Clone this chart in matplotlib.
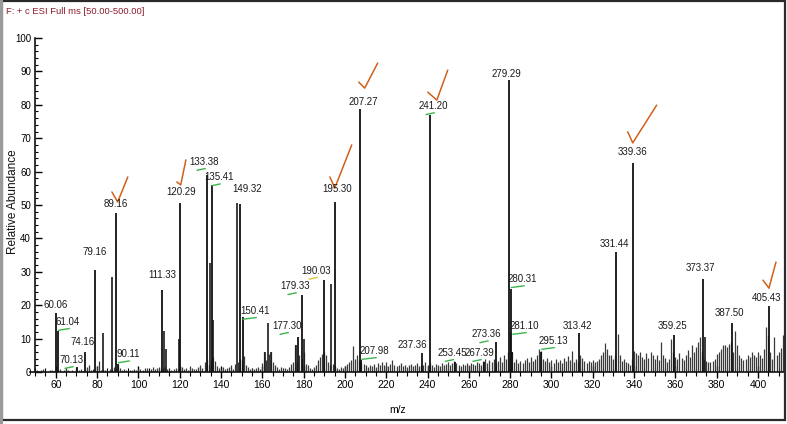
import matplotlib
matplotlib.use("Agg")
import matplotlib.pyplot as plt
from matplotlib.patches import Rectangle
import numpy as np

# ---------------- data ----------------
noise_start = 50
noise_heights = [
    0.4, 0.6, 0.3, 0.5, 0.8, 0.4, 0.3, 0.6, 0.5, 0.4,
    0.5, 0.7, 0.9, 0.4, 0.6, 1.0, 0.5, 0.3, 0.7, 0.4,
    1.1, 0.5, 0.8, 0.4, 0.6, 1.4, 2.0, 0.5, 0.9, 0.6,
    1.8, 3.2, 0.7, 1.0, 0.6, 0.5, 0.8, 0.9, 1.4, 0.8,
    2.0, 1.2, 0.6, 0.9, 0.5, 0.4, 0.7, 0.5, 0.9, 0.6,
    0.8, 1.0, 0.6, 1.3, 1.1, 0.7, 0.9, 1.5, 0.8, 1.2,
    1.6, 1.0, 1.2, 1.4, 1.0, 0.8, 0.6, 0.9, 1.2, 1.0,
    0.8, 1.5, 0.9, 1.2, 0.7, 1.8, 1.3, 0.9, 1.0, 1.6,
    2.2, 1.2, 3.0, 4.0, 2.0, 3.5, 4.5, 3.2, 1.8, 1.2,
    1.0, 1.4, 0.9, 1.2, 1.6, 2.1, 1.0, 2.4, 3.0, 4.0,
    3.5, 4.8, 2.2, 1.5, 1.0, 1.3, 0.9, 1.2, 1.6, 1.0,
    2.8, 6.0, 3.5, 5.5, 6.0, 3.0, 2.0, 1.5, 1.0, 1.4,
    0.9, 1.2, 1.0, 1.5, 2.4, 3.0, 8.0, 3.0, 5.0, 4.0,
    6.0, 2.5, 2.0, 1.2, 1.0, 1.5, 2.0, 3.5, 4.5, 5.5,
    6.0, 5.0, 3.0, 2.0, 2.5, 1.8, 1.2, 1.0, 1.6, 1.2,
    1.8, 2.5, 3.0, 3.5, 7.8, 4.0, 5.0, 3.5, 3.0, 2.5,
    2.0, 1.6, 2.2, 1.8, 2.5, 1.5, 2.8, 2.0, 3.0, 2.2,
    3.0, 1.8, 2.5, 3.5, 2.2, 1.8, 2.0, 2.6, 1.8, 2.2,
    1.6, 2.0, 2.4, 1.8, 2.2, 2.6, 1.8, 2.0, 2.2, 3.0,
    2.2, 2.8, 2.0, 1.6, 2.4, 2.2, 1.8, 2.8, 2.0, 2.5,
    3.0, 2.2, 2.6, 3.4, 2.8, 2.2, 1.8, 2.4, 2.0, 2.6,
    2.2, 2.8, 2.4, 2.0, 3.0, 2.6, 2.2, 3.4, 4.0, 2.6,
    3.6, 3.0, 4.0, 2.8, 3.2, 4.6, 3.0, 5.0, 4.0, 6.0,
    12.0, 6.0, 3.0, 4.0, 2.6, 3.4, 2.8, 3.6, 4.2, 3.0,
    4.6, 3.2, 3.8, 5.0, 7.0, 6.4, 4.0, 3.2, 4.2, 3.0,
    3.6, 2.8, 4.0, 3.0, 3.6, 2.6, 4.2, 3.2, 4.8, 3.6,
    6.2, 3.0, 4.0, 3.0, 5.0, 4.2, 3.4, 2.8, 3.4, 3.0,
    3.6, 3.0, 3.4, 4.0, 5.0, 6.0, 8.6, 7.0, 5.0, 5.0,
    4.0, 5.0, 11.4, 5.0, 3.2, 4.0, 3.0, 2.6, 2.2, 4.0,
    6.4, 5.6, 5.2, 6.0, 4.6, 4.0, 5.8, 4.2, 6.0, 5.0,
    4.0, 5.2, 3.6, 9.0, 5.0, 4.2, 3.0, 4.0, 10.0, 6.0,
    4.6, 3.8, 5.6, 4.2, 3.6, 5.0, 6.6, 4.4, 8.0, 6.0,
    7.4, 9.0, 10.5, 6.0, 4.0, 3.4, 3.0, 3.0, 3.2, 4.0,
    5.4, 6.0, 7.0, 8.0, 8.2, 7.6, 8.5, 9.0, 6.0, 12.3,
    8.0, 5.0, 4.2, 3.6, 4.0, 5.0, 4.6, 6.0, 5.0, 4.4,
    6.0, 5.0, 4.2, 7.0, 13.5, 11.0, 6.0, 4.0, 10.5, 5.0,
    6.0, 7.2, 11.0,
]

# labelled peaks
peak_mz = [60.06, 61.04, 70.13, 74.16, 79.16, 89.16, 90.11, 111.33, 120.29,
           133.38, 135.41, 149.32, 150.41, 177.30, 179.33, 190.03, 195.30,
           207.27, 207.98, 237.36, 241.20, 253.45, 267.39, 273.36, 279.29,
           280.31, 281.10, 295.13, 313.42, 331.44, 339.36, 359.25, 373.37,
           387.50, 405.43]
peak_abund = [17.6, 12.3, 1.5, 6.0, 30.5, 47.6, 2.5, 24.5, 50.6,
              59.0, 56.0, 50.3, 16.5, 10.5, 23.0, 27.5, 51.0,
              78.7, 3.5, 5.7, 77.0, 3.0, 3.0, 9.0, 87.5,
              25.0, 6.0, 6.0, 11.6, 35.8, 62.6, 11.0, 27.8,
              14.7, 19.8]
peak_labels = ["60.06", "61.04", "70.13", "74.16", "79.16", "89.16", "90.11",
               "111.33", "120.29", "133.38", "135.41", "149.32", "150.41",
               "177.30", "179.33", "190.03", "195.30", "207.27", "207.98",
               "237.36", "241.20", "253.45", "267.39", "273.36", "279.29",
               "280.31", "281.10", "295.13", "313.42", "331.44", "339.36",
               "359.25", "373.37", "387.50", "405.43"]

# other prominent unlabelled peaks
extra_mz = [82.9, 87.1, 112.2, 113.3, 119.6, 134.5, 136.2, 147.8, 161.2,
            162.9, 164.2, 176.5, 180.1, 193.2, 374.3]
extra_abund = [11.7, 28.4, 12.3, 7.0, 10.0, 32.6, 15.6, 50.5, 6.0,
               14.7, 6.0, 8.0, 10.0, 26.3, 10.5]

# ---------------- annotation layout (offsets from peak, data units) -------
label_dx = [0.0, 4.8, -2.4, -1.1, -0.3, 0.0, 4.8, 0.0, 0.2,
            -1.7, 3.5, 3.2, 6.0, -5.4, -3.6, -4.1, 0.8,
            1.4, 6.5, -4.5, 1.4, -1.6, -2.1, -4.7, -0.9,
            5.8, 6.0, 5.6, -0.6, -0.7, 0.0, -0.5, -1.1,
            -1.1, -1.1]
label_dy = [1.0, 1.2, 0.6, 1.5, 3.9, 1.2, 1.3, 3.0, 1.8,
            2.4, 0.8, 3.0, 0.3, 1.8, 1.2, 1.3, 2.3,
            0.6, 1.3, 0.9, 1.1, 1.2, 1.2, 0.8, 0.3,
            1.3, 6.3, 1.8, 0.7, 1.0, 1.8, 1.3, 1.8,
            1.5, 1.0]
leader_labels = {"61.04", "70.13", "90.11", "133.38", "135.41", "150.41",
                 "177.30", "179.33", "190.03", "207.98", "241.20", "253.45",
                 "267.39", "273.36", "280.31", "281.10", "295.13"}
check_shapes = {  # (dx, dy) offsets from peak top for the 3 points of each tick
    "89.16":  [(-2.0, 6.3), (0.8, 3.3), (5.7, 10.8)],
    "120.29": [(-1.7, 6.3), (0.2, 5.4), (2.7, 12.9)],
    "195.30": [(-2.6, 7.4), (-0.2, 4.1), (8.0, 17.0)],
    "207.27": [(-0.6, 8.1), (2.3, 6.3), (8.6, 13.8)],
    "241.20": [(-1.1, 6.8), (3.3, 4.4), (8.6, 13.4)],
    "339.36": [(-2.4, 9.3), (0.0, 6.0), (11.6, 17.3)],
    "405.43": [(-3.0, 7.7), (-0.1, 5.3), (3.3, 13.1)],
}

# ---------------- figure ----------------
narrow = ["Liberation Sans Narrow", "Liberation Sans", "DejaVu Sans"]
plt.rcParams["font.family"] = narrow

fig = plt.figure(figsize=(7.87, 4.24), dpi=100)
ax = fig.add_axes([30 / 787, (424 - 372) / 424, 755 / 787, (372 - 38) / 424])

noise_mz = np.arange(noise_start, noise_start + len(noise_heights))
ax.vlines(noise_mz, 0, noise_heights, color="#3a3a3a", lw=0.9)
ax.vlines(extra_mz, 0, extra_abund, color="#1a1a1a", lw=1.2)
ax.vlines(peak_mz, 0, peak_abund, color="#111111", lw=1.3)

lab_color = "#1a1a1a"
for m, h, t, dx, dy in zip(peak_mz, peak_abund, peak_labels, label_dx, label_dy):
    lx, ly = m + dx, h + dy
    ax.text(lx, ly, t, ha="center", va="bottom", fontsize=7.0, color=lab_color)
    if t in leader_labels:
        col = "#d9c931" if t == "190.03" else "#3cb44b"
        x0 = min(m + 0.3, lx - 3.2)
        ax.plot([x0, lx + 0.6], [ly - 1.0, ly - 0.5], color=col, lw=1.0)
    if t in check_shapes:
        pts = check_shapes[t]
        ax.plot([m + p[0] for p in pts], [h + p[1] for p in pts],
                color="#d2601a", lw=1.1, solid_capstyle="round")

ax.set_xlim(47.5, 413.1)
ax.set_ylim(0, 100)
ax.spines["top"].set_visible(False)
ax.spines["right"].set_visible(False)
ax.spines["left"].set_position(("data", 50))
ax.spines["left"].set_bounds(0, 100)
for s in ("left", "bottom"):
    ax.spines[s].set_linewidth(1.2)
    ax.spines[s].set_color("#111111")

ax.set_yticks(np.arange(0, 101, 10))
ax.set_yticks(np.arange(0, 101, 2), minor=True)
ax.set_xticks(np.arange(60, 401, 20))
ax.set_xticks(np.arange(50, 413, 5), minor=True)
ax.tick_params(axis="y", which="major", direction="in", length=5, width=1,
               labelsize=7, pad=3)
ax.tick_params(axis="y", which="minor", direction="in", length=2.5, width=0.8)
ax.tick_params(axis="x", which="major", direction="inout", length=8, width=1,
               labelsize=7.5, pad=2)
ax.tick_params(axis="x", which="minor", direction="inout", length=6, width=0.8)

ax.set_xlabel("m/z", fontsize=7.5, labelpad=6)
ax.xaxis.set_label_coords((398 - 30) / 755, -0.1)
fig.text(13 / 787, 1 - 202 / 424, "Relative Abundance", fontsize=8.5,
         rotation=90, ha="center", va="center", color="#111111",
         family=["Liberation Sans", "DejaVu Sans"])

fig.text(6 / 787, 1 - 12 / 424, "F: + c ESI Full ms [50.00-500.00]",
         fontsize=6.8, color="#8b1c2c", va="center", ha="left")

# outer frame
fig.patches.append(Rectangle((1.5 / 787, 4 / 424), 783 / 787, 419 / 424,
                             transform=fig.transFigure, fill=False,
                             edgecolor="#2a2a2a", lw=1.6))
fig.patches.append(Rectangle((0, 0), 3 / 787, 1, transform=fig.transFigure,
                             facecolor="#9a9a9a", edgecolor="none"))

fig.savefig("out.png", dpi=100)
